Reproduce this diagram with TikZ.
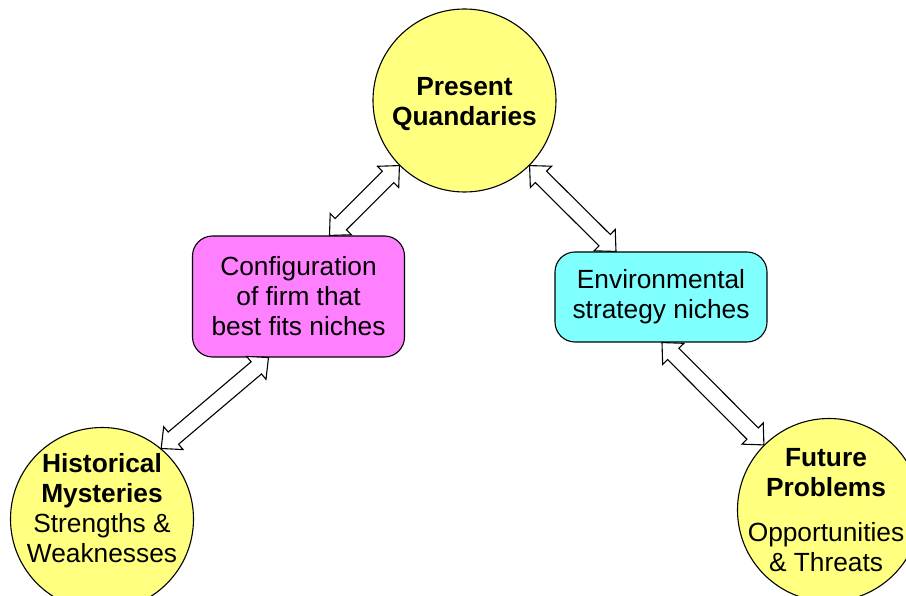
\documentclass[tikz,border=0pt]{standalone}
\usepackage{fontspec}
\setmainfont{Liberation Sans}
\usepackage{tikz}
\usetikzlibrary{calc}
\definecolor{bubbleyellow}{RGB}{255,255,128}
\definecolor{confpink}{RGB}{255,128,255}
\definecolor{envcyan}{RGB}{128,255,255}

% hollow double arrow between two named points
\newcommand{\dblarrow}[2]{%
  \draw[blockarrow] (#1)
    -- ($($(#1)!16pt!(#2)$)!15pt!90:(#2)$)
    -- ($($(#1)!16pt!(#2)$)!8pt!90:(#2)$)
    -- ($($(#2)!16pt!(#1)$)!8pt!-90:(#1)$)
    -- ($($(#2)!16pt!(#1)$)!15pt!-90:(#1)$)
    -- (#2)
    -- ($($(#2)!16pt!(#1)$)!15pt!90:(#1)$)
    -- ($($(#2)!16pt!(#1)$)!8pt!90:(#1)$)
    -- ($($(#1)!16pt!(#2)$)!8pt!-90:(#2)$)
    -- ($($(#1)!16pt!(#2)$)!15pt!-90:(#2)$)
    -- cycle;}

\begin{document}
\begin{tikzpicture}[x=1pt, y=-1pt,
    bubble/.style={circle, draw=black, line width=1.1pt, fill=bubbleyellow, minimum size=183pt, inner sep=0pt, align=center},
    niche/.style={draw=black, line width=1.1pt, rounded corners=20pt, minimum width=212pt, inner sep=0pt, align=center},
    blockarrow/.style={draw=black, line width=1.1pt, fill=white, line join=miter},
    every node/.style={font=\fontsize{26.3}{30}\selectfont}]

    \useasboundingbox (0,0) rectangle (906,596);
    \clip (0,0) rectangle (906,596);

    \node[bubble](pq) at (464.5,100.5) {};
    \node[align=center](pqtext) at ([yshift=-4pt]pq.center) {\textbf{Present}\\\textbf{Quandaries}};

    \node[niche, fill=confpink, minimum height=121pt](conf) at (298.5,296.5) {Configuration\\of firm that\\best fits niches};
    \node[niche, fill=envcyan, minimum height=90pt](env) at (661,297) {Environmental\\strategy niches};

    \node[bubble](hist) at (102,519) {};
    \node[align=center](histtext) at ([yshift=11pt]hist.center) {\textbf{Historical}\\\textbf{Mysteries}\\Strengths \&\\Weaknesses};

    \node[bubble](fut) at (829,510) {};
    \node[align=center](futtext) at ([xshift=-3pt]fut.center) {\textbf{Future}\\\textbf{Problems}\\[15pt]Opportunities\\\& Threats};

    %\coordinate ends on the boxes
    \coordinate (confN) at ([xshift=31pt]conf.north);
    \coordinate (confS) at ([xshift=-30pt]conf.south);
    \coordinate (envN) at ([xshift=-45pt]env.north);
    \coordinate (envS) at ([xshift=1pt]env.south);

    \dblarrow{confN}{pq.225}
    \dblarrow{pq.315}{envN}
    \dblarrow{confS}{hist.50}
    \dblarrow{envS}{fut.135}

\end{tikzpicture}
\end{document}
